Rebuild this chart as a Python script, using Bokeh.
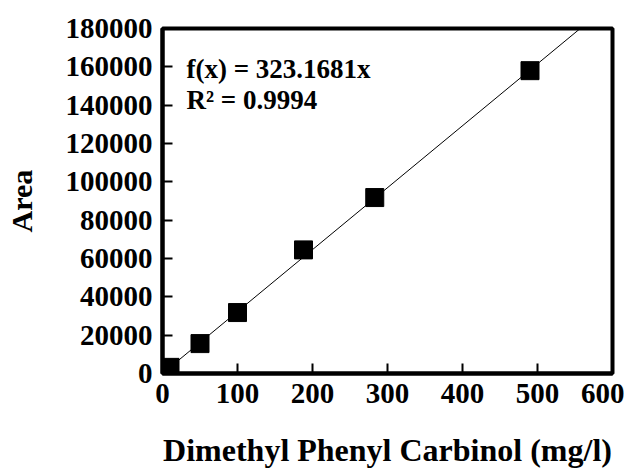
from bokeh.plotting import figure
from bokeh.models import Label, Range1d, FixedTicker, PrintfTickFormatter
from bokeh.embed import file_html
from bokeh.resources import INLINE

# data
conc = [0, 10, 50, 100, 188, 283, 490]
area = [0, 3200, 15600, 31800, 64500, 91800, 158000]
slope = 323.1681
r2 = 0.9994
x_ticks = [0, 100, 200, 300, 400, 500, 600]
y_ticks = [0, 20000, 40000, 60000, 80000, 100000, 120000, 140000, 160000, 180000]

FONT = "Liberation Serif"

p = figure(frame_width=450, frame_height=345, output_backend="svg", toolbar_location=None,
           x_range=Range1d(0, 600), y_range=Range1d(0, 180000),
           min_border_left=162, min_border_right=12, min_border_top=28, min_border_bottom=85)
p.grid.visible = False
p.outline_line_color = "black"
p.outline_line_width = 4

for ax in (p.xaxis[0], p.yaxis[0]):
    ax.axis_line_width = 4
    ax.axis_line_color = "black"
    ax.major_tick_line_width = 2
    ax.major_tick_in = 10
    ax.major_tick_out = 0
    ax.minor_tick_line_color = None
    ax.major_label_text_font = FONT
    ax.major_label_text_font_style = "bold"
    ax.major_label_text_font_size = "29px"
    ax.major_label_text_color = "black"
    ax.axis_label_text_font = FONT
    ax.axis_label_text_font_style = "bold"
    ax.axis_label_text_font_size = "32px"
    ax.axis_label_text_color = "black"
    ax.formatter = PrintfTickFormatter(format="%d")

p.xaxis.ticker = FixedTicker(ticks=x_ticks)
p.yaxis.ticker = FixedTicker(ticks=y_ticks)
p.xaxis.major_label_standoff = 10
p.yaxis.major_label_standoff = 10
p.xaxis.axis_label = "Dimethyl Phenyl Carbinol (mg/l)"
p.yaxis.axis_label = "Area"
p.yaxis.axis_label_text_font_size = "30px"
p.xaxis.axis_label_standoff = 26
p.yaxis.axis_label_standoff = 25

# trend line
xs = [0, 600]
p.line(xs, [slope * v for v in xs], line_color="black", line_width=1)

# points
p.scatter(conc, area, marker="square", size=18, fill_color="black", line_color="black")

p.add_layout(Label(x=32, y=159000, text=f"f(x) = {slope}x", text_font=FONT,
                   text_font_style="bold", text_font_size="27px", text_color="black",
                   text_baseline="alphabetic"))
p.add_layout(Label(x=32, y=142500, text=f"R² = {r2}", text_font=FONT,
                   text_font_style="bold", text_font_size="27px", text_color="black",
                   text_baseline="alphabetic"))

open("out.html", "w").write(file_html(p, INLINE))
